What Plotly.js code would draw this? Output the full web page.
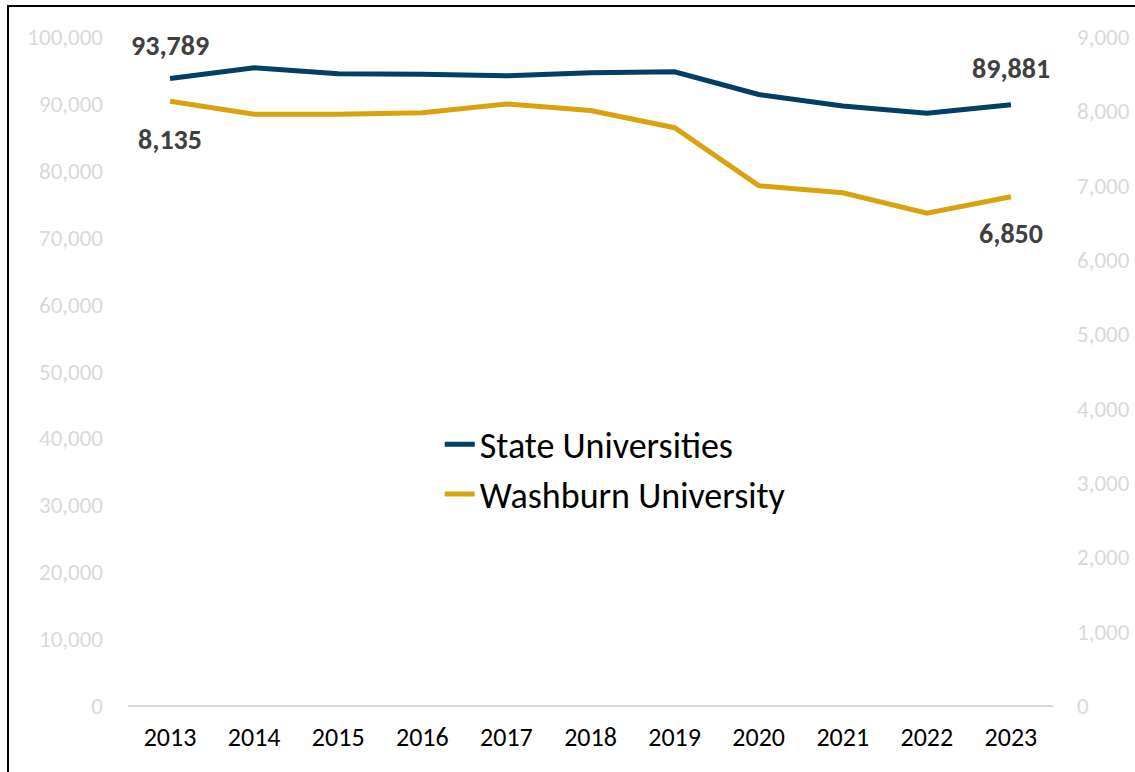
<!DOCTYPE html>
<html>
<head>
<meta charset="utf-8">
<script src="https://cdn.plot.ly/plotly-3.0.1.min.js"></script>
<style>
  html, body { margin: 0; padding: 0; background: #fff; }
  #wrap { position: relative; width: 1135px; height: 772px; }
  #chart { width: 1135px; height: 772px; }
  #frame { position: absolute; left: 7px; top: 5px; width: 1140px; height: 780px;
           border-left: 2px solid #000; border-top: 2px solid #000; pointer-events: none; }
</style>
</head>
<body>
<div id="wrap">
  <div id="chart"></div>
  <div id="frame"></div>
</div>
<script>
const years = ['2013','2014','2015','2016','2017','2018','2019','2020','2021','2022','2023'];
const stateUniv = [93789, 95400, 94500, 94450, 94200, 94650, 94800, 91400, 89700, 88600, 89881];
const washburn = [8135, 7960, 7960, 7980, 8100, 8010, 7780, 7000, 6905, 6630, 6850];
const leftTicks = [0,10000,20000,30000,40000,50000,60000,70000,80000,90000,100000];
const rightTicks = [0,1000,2000,3000,4000,5000,6000,7000,8000,9000];

const FONT = 'Carlito, Lato, "Open Sans", sans-serif';
const fmt = v => v.toLocaleString('en-US');
const first = 0;
const last = years.length - 1;

const traces = [
  { x: years, y: stateUniv, name: 'State Universities', type: 'scatter', mode: 'lines',
    line: { color: '#023E66', width: 5 }, yaxis: 'y' },
  { x: years, y: washburn, name: 'Washburn University', type: 'scatter', mode: 'lines',
    line: { color: '#D9A30E', width: 5 }, yaxis: 'y2' }
];

const lblFont = { family: FONT, size: 28, color: '#404040' };
const annotations = [
  { x: first, y: stateUniv[first], xref: 'x', yref: 'y', text: '<b>' + fmt(stateUniv[first]) + '</b>', showarrow: false, yshift: 33, font: lblFont },
  { x: last, y: stateUniv[last], xref: 'x', yref: 'y', text: '<b>' + fmt(stateUniv[last]) + '</b>', showarrow: false, yshift: 36, font: lblFont },
  { x: first, y: washburn[first], xref: 'x', yref: 'y2', text: '<b>' + fmt(washburn[first]) + '</b>', showarrow: false, yshift: -38, font: lblFont },
  { x: last, y: washburn[last], xref: 'x', yref: 'y2', text: '<b>' + fmt(washburn[last]) + '</b>', showarrow: false, yshift: -37, font: lblFont }
];

const layout = {
  width: 1135, height: 772,
  margin: { l: 128, r: 82, t: 37, b: 66 },
  paper_bgcolor: '#fff', plot_bgcolor: '#fff',
  font: { family: FONT },
  showlegend: true,
  legend: { x: 0.337, y: 0.436, xanchor: 'left', yanchor: 'top',
            font: { family: FONT, size: 36, color: '#000' }, bgcolor: 'rgba(0,0,0,0)',
            tracegroupgap: 0, itemwidth: 30 },
  xaxis: { type: 'category', range: [-0.5, 10.5], showgrid: false, zeroline: false,
           showline: false, ticks: '', tickfont: { family: FONT, size: 26, color: '#000' },
           ticklabelstandoff: 13 },
  yaxis: { range: [0, 100000], tickvals: leftTicks, ticktext: leftTicks.map(fmt),
           showgrid: false, zeroline: true, zerolinecolor: '#d9d9d9', zerolinewidth: 2,
           showline: false, ticks: '', tickfont: { family: FONT, size: 23, color: '#d9d9d9' },
           ticklabelstandoff: 24 },
  yaxis2: { range: [0, 9000], overlaying: 'y', side: 'right', tickvals: rightTicks,
            ticktext: rightTicks.map(fmt), showgrid: false, zeroline: false, showline: false,
            ticks: '', tickfont: { family: FONT, size: 23, color: '#d9d9d9' },
            ticklabelstandoff: 23 },
  annotations: annotations
};

Plotly.newPlot('chart', traces, layout, { displayModeBar: false, staticPlot: true });
</script>
</body>
</html>
